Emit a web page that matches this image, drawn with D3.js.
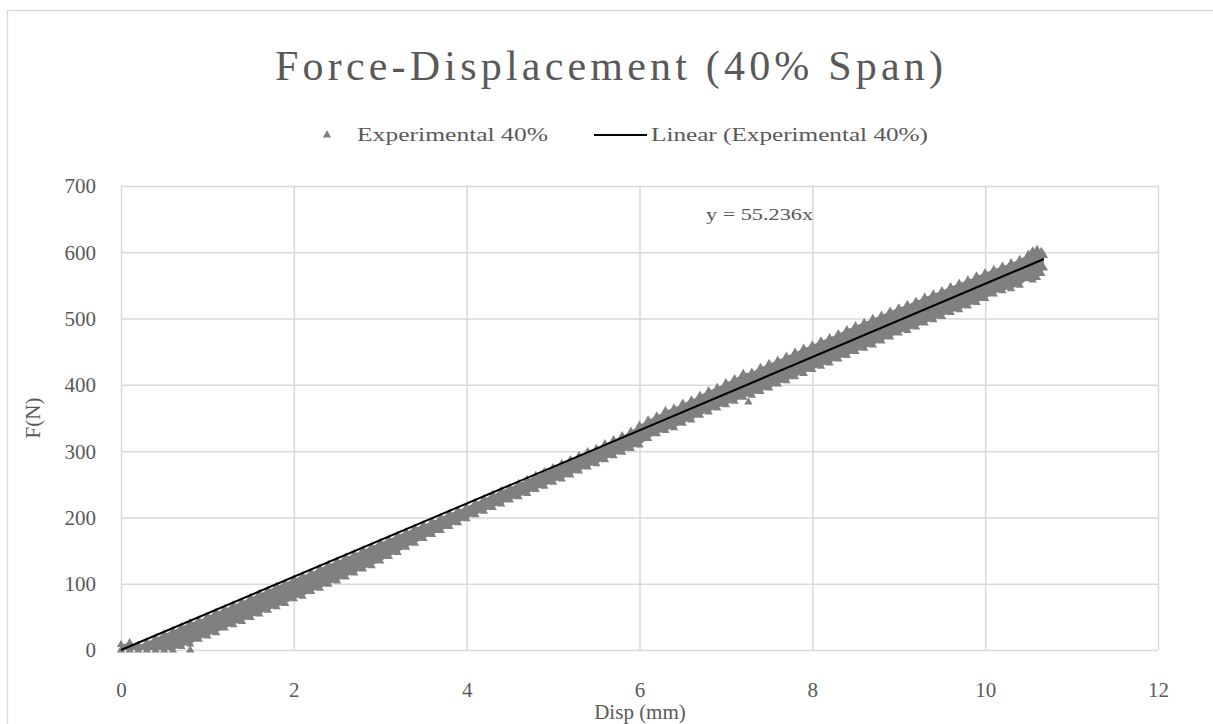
<!DOCTYPE html>
<html lang="en">
<head>
  <meta charset="UTF-8">
  <title>Force-Displacement (40% Span)</title>
  <style>
    body { margin: 0; background: #fff; }
    svg text { font-family: "Liberation Serif", "DejaVu Serif", serif; fill: #595959; }
    .grid line { stroke: #d9d9d9; stroke-width: 1.5; }
    .grid .domain { display: none; }
  </style>
</head>
<body>
  <svg id="chart" width="1213" height="724"></svg>
  <script src="https://cdn.jsdelivr.net/npm/d3@7/dist/d3.min.js"></script>
  <script>
    // displacement samples (mm) and the upper / lower edge of the measured cloud (N)
    const disp = [0, 0.1, 0.2, 0.3, 0.4, 0.5, 0.6, 0.7, 0.8, 0.9,
      1.0, 1.1, 1.2, 1.3, 1.4, 1.5, 1.6, 1.7, 1.8, 1.9,
      2.0, 2.1, 2.2, 2.3, 2.4, 2.5, 2.6, 2.7, 2.8, 2.9,
      3.0, 3.1, 3.2, 3.3, 3.4, 3.5, 3.6, 3.7, 3.8, 3.9,
      4.0, 4.1, 4.2, 4.3, 4.4, 4.5, 4.6, 4.7, 4.8, 4.9,
      5.0, 5.1, 5.2, 5.3, 5.4, 5.5, 5.6, 5.7, 5.8, 5.9,
      6.0, 6.1, 6.2, 6.3, 6.4, 6.5, 6.6, 6.7, 6.8, 6.9,
      7.0, 7.1, 7.2, 7.3, 7.4, 7.5, 7.6, 7.7, 7.8, 7.9,
      8.0, 8.1, 8.2, 8.3, 8.4, 8.5, 8.6, 8.7, 8.8, 8.9,
      9.0, 9.1, 9.2, 9.3, 9.4, 9.5, 9.6, 9.7, 9.8, 9.9,
      10.0, 10.1, 10.2, 10.3, 10.4, 10.5, 10.55, 10.6, 10.65, 10.68]
    const forceHigh = [8, 11, 7, 12, 18, 24, 29, 35, 41, 45,
      51, 57, 62, 68, 73, 79, 85, 90, 96, 101,
      107, 112, 117, 123, 129, 134, 140, 145, 151, 156,
      162, 167, 173, 178, 184, 189, 194, 200, 206, 211,
      216, 222, 228, 234, 240, 245, 251, 257, 263, 269,
      275, 281, 287, 293, 299, 304, 311, 317, 323, 330,
      339, 347, 353, 361, 365, 372, 377, 384, 391, 396,
      403, 409, 417, 419, 426, 432, 437, 443, 449, 455,
      460, 466, 471, 477, 483, 489, 494, 500, 505, 511,
      516, 521, 526, 532, 537, 542, 548, 553, 558, 564,
      569, 574, 579, 584, 589, 597, 602, 604, 601, 595]
    const forceLow = [0, 0, 0, 0, 0, 0, 0, 5, 9, 16,
      21, 26, 33, 38, 43, 49, 54, 60, 65, 70,
      77, 81, 88, 93, 99, 104, 110, 116, 122, 127,
      134, 141, 147, 155, 161, 168, 174, 180, 186, 192,
      198, 204, 209, 215, 220, 226, 231, 236, 242, 247,
      253, 258, 264, 270, 276, 281, 287, 293, 298, 304,
      309, 319, 326, 331, 335, 342, 347, 354, 359, 365,
      370, 375, 381, 384, 390, 395, 401, 406, 412, 417,
      423, 428, 433, 439, 444, 450, 455, 460, 466, 472,
      478, 482, 487, 493, 498, 503, 509, 513, 519, 524,
      530, 537, 542, 545, 550, 560, 558, 562, 568, 576]
    // isolated readings that sit outside the cloud
    const outlierDisp = [0.8, 7.26]
    const outlierForce = [0, 374]

    const trendSlope = 55.236
    const xTicks = [0, 2, 4, 6, 8, 10, 12]
    const yTicks = [0, 100, 200, 300, 400, 500, 600, 700]

    const svg = d3.select('#chart')

    // chart area border (runs off the page at right / bottom)
    svg.append('rect')
      .attr('x', 7.5).attr('y', 10.5)
      .attr('width', 1400).attr('height', 900)
      .attr('fill', 'none').attr('stroke', '#d9d9d9').attr('stroke-width', 1.3)

    const x = d3.scaleLinear().domain([0, 12]).range([121, 1158])
    const y = d3.scaleLinear().domain([0, 700]).range([650, 186])

    // grid + tick labels
    const gx = svg.append('g').attr('class', 'grid')
      .attr('transform', 'translate(0,' + y(0) + ')')
      .call(d3.axisBottom(x).tickValues(xTicks).tickSize(-(y(0) - y(700))).tickPadding(0))
    gx.selectAll('text').attr('y', 47).attr('dy', null)
      .style('font-size', '21px')

    const gy = svg.append('g').attr('class', 'grid')
      .attr('transform', 'translate(' + x(0) + ',0)')
      .call(d3.axisLeft(y).tickValues(yTicks).tickSize(-(x(12) - x(0))).tickPadding(0))
    gy.selectAll('text').attr('x', -25).attr('dy', '0.33em')
      .style('font-size', '21px')

    // measured cloud
    const pts = disp.map((d, i) => ({ d: d, hi: forceHigh[i], lo: forceLow[i] }))
    svg.append('path')
      .datum(pts)
      .attr('fill', '#808080')
      .attr('d', d3.area().x(p => x(p.d)).y0(p => y(p.lo)).y1(p => y(p.hi)))

    const tri = d3.symbol().type(d3.symbolTriangle).size(30)
    const marks = []
    pts.forEach(p => { marks.push([p.d, p.hi]); marks.push([p.d, p.lo]) })
    outlierDisp.forEach((d, i) => marks.push([d, outlierForce[i]]))
    svg.append('g').selectAll('path')
      .data(marks)
      .enter()
      .append('path')
      .attr('d', tri)
      .attr('fill', '#808080')
      .attr('transform', m => 'translate(' + x(m[0]) + ',' + y(m[1]) + ')')

    // linear trendline through the origin
    const xMax = d3.max(disp)
    svg.append('line')
      .attr('x1', x(0)).attr('y1', y(0))
      .attr('x2', x(xMax)).attr('y2', y(trendSlope * xMax))
      .attr('stroke', '#000').attr('stroke-width', 2)

    svg.append('text')
      .attr('x', 706).attr('y', 220)
      .attr('textLength', 107).attr('lengthAdjust', 'spacingAndGlyphs')
      .style('font-size', '17px')
      .text('y = ' + trendSlope + 'x')

    // title
    svg.append('text')
      .attr('x', 275).attr('y', 80)
      .attr('textLength', 668).attr('lengthAdjust', 'spacing')
      .style('font-size', '42px')
      .text('Force-Displacement (40% Span)')

    // legend
    svg.append('path')
      .attr('d', tri)
      .attr('fill', '#808080')
      .attr('transform', 'translate(327,135)')
    svg.append('text')
      .attr('x', 357).attr('y', 141)
      .attr('textLength', 191).attr('lengthAdjust', 'spacingAndGlyphs')
      .style('font-size', '19px')
      .text('Experimental 40%')
    svg.append('line')
      .attr('x1', 594).attr('x2', 647).attr('y1', 135).attr('y2', 135)
      .attr('stroke', '#000').attr('stroke-width', 2)
    svg.append('text')
      .attr('x', 651).attr('y', 141)
      .attr('textLength', 277).attr('lengthAdjust', 'spacingAndGlyphs')
      .style('font-size', '19px')
      .text('Linear (Experimental 40%)')

    // axis titles
    svg.append('text')
      .attr('text-anchor', 'middle')
      .attr('x', 640).attr('y', 719)
      .style('font-size', '21px')
      .text('Disp (mm)')
    svg.append('text')
      .attr('text-anchor', 'middle')
      .attr('transform', 'translate(40,418) rotate(-90)')
      .style('font-size', '21px')
      .text('F(N)')
  </script>
</body>
</html>
